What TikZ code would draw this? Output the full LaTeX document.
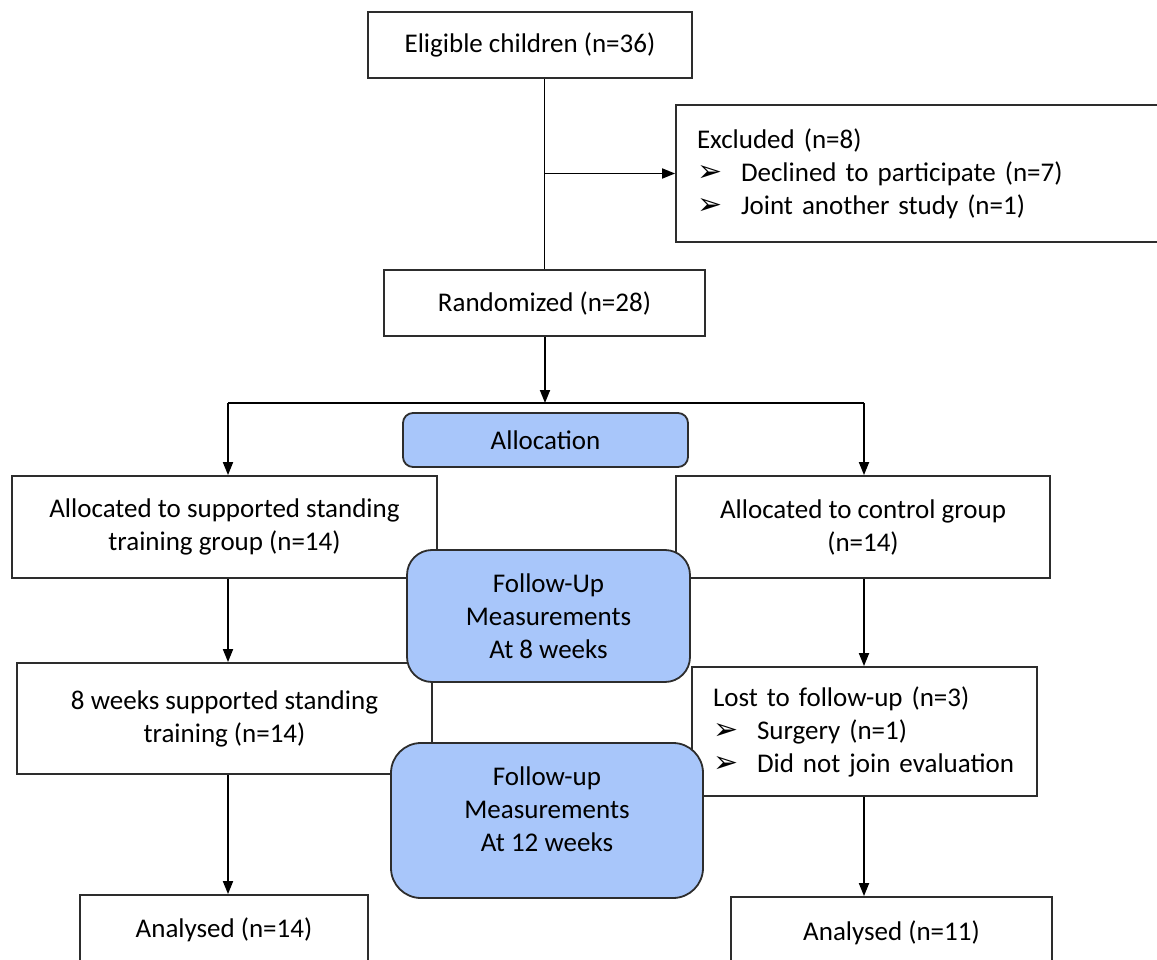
\documentclass[tikz,border=0pt]{standalone}
\usepackage{fontspec}
\setmainfont{Carlito}
\newfontfamily\djv{DejaVu Sans}
\usetikzlibrary{arrows.meta}
\definecolor{fublue}{RGB}{168,198,250}
\definecolor{bord}{RGB}{45,45,45}
\newcommand{\bul}{\makebox[44pt][l]{\djv\fontsize{30}{30}\selectfont ➢}}
\begin{document}
\begin{tikzpicture}[x=1pt,y=-1pt,
  box/.style={draw=bord, line width=1.8pt, fill=white, inner sep=0pt, align=center,
              font=\fontsize{27}{33}\selectfont},
  bluebox/.style={box, fill=fublue, rounded corners=#1},
  txt/.style={inner sep=0pt, align=center, font=\fontsize{27}{33}\selectfont},
  conn/.style={draw=black, line width=1.8pt},
  arr/.style={conn, -{Triangle[length=13pt,width=10pt]}},
]
\useasboundingbox (0,0) rectangle (1157,960);

% white boxes
\node[box, minimum width=324pt, minimum height=66pt] (elig) at (530,45) {Eligible children (n=36)};
\node[box, minimum width=504pt, minimum height=137pt, text width=462pt, align=left] (excl) at (928,173.5)
  {Excluded (n=8)\\ \bul Declined to participate (n=7)\\ \bul Joint another study (n=1)};
\node[box, minimum width=321pt, minimum height=66pt] (rand) at (544.5,303) {Randomized (n=28)};
\node[box, minimum width=425pt, minimum height=102pt] (la) at (224.5,527)
  {Allocated to supported standing\\ training group (n=14)};
\node[box, minimum width=374pt, minimum height=102pt] (ra) at (863,527)
  {Allocated to control group\\ (n=14)};
\node[box, minimum width=415pt, minimum height=111pt] (wk) at (224.5,718.5)
  {8 weeks supported standing\\ training (n=14)};
\node[box, minimum width=345pt, minimum height=129pt, text width=303pt, align=left] (lost) at (864.5,731.5)
  {Lost to follow-up (n=3)\\ \bul Surgery (n=1)\\ \bul Did not join evaluation};
\node[box, minimum width=288pt, minimum height=70pt] (anl) at (224,930) {Analysed (n=14)};
\node[box, minimum width=321pt, minimum height=72pt] (anr) at (891.5,933) {Analysed (n=11)};

% connectors
\coordinate (split) at (545,403);
\coordinate (sl) at (228,403);
\coordinate (sr) at (864,403);
\draw[conn] (rand.north |- elig.south) -- (rand.north);
\draw[arr] (rand.north |- excl.west) -- (excl.west);
\draw[arr] (rand.south -| split) -- (split);
\draw[conn] (sl) -- (sr);
\draw[arr] (sl) -- (sl |- la.north);
\draw[arr] (sr) -- (sr |- ra.north);
\draw[arr] (sl |- la.south) -- (sl |- wk.north);
\draw[arr] (sr |- ra.south) -- (sr |- lost.north);
\draw[arr] (sl |- wk.south) -- (sl |- anl.north);
\draw[arr] (sr |- lost.south) -- (sr |- anr.north);

% blue boxes
\node[bluebox=10pt, minimum width=285pt, minimum height=54pt] (alloc) at (545.5,440) {Allocation};
\node[bluebox=25pt, minimum width=283pt, minimum height=132pt] (fu1) at (548.5,616)
  {Follow-Up\\ Measurements\\ At 8 weeks};
\node[bluebox=30pt, minimum width=312pt, minimum height=155pt] (fu2) at (547,820.5) {};
\node[txt] (fu2t) at (547,809) {Follow-up\\ Measurements\\ At 12 weeks};
\end{tikzpicture}
\end{document}
